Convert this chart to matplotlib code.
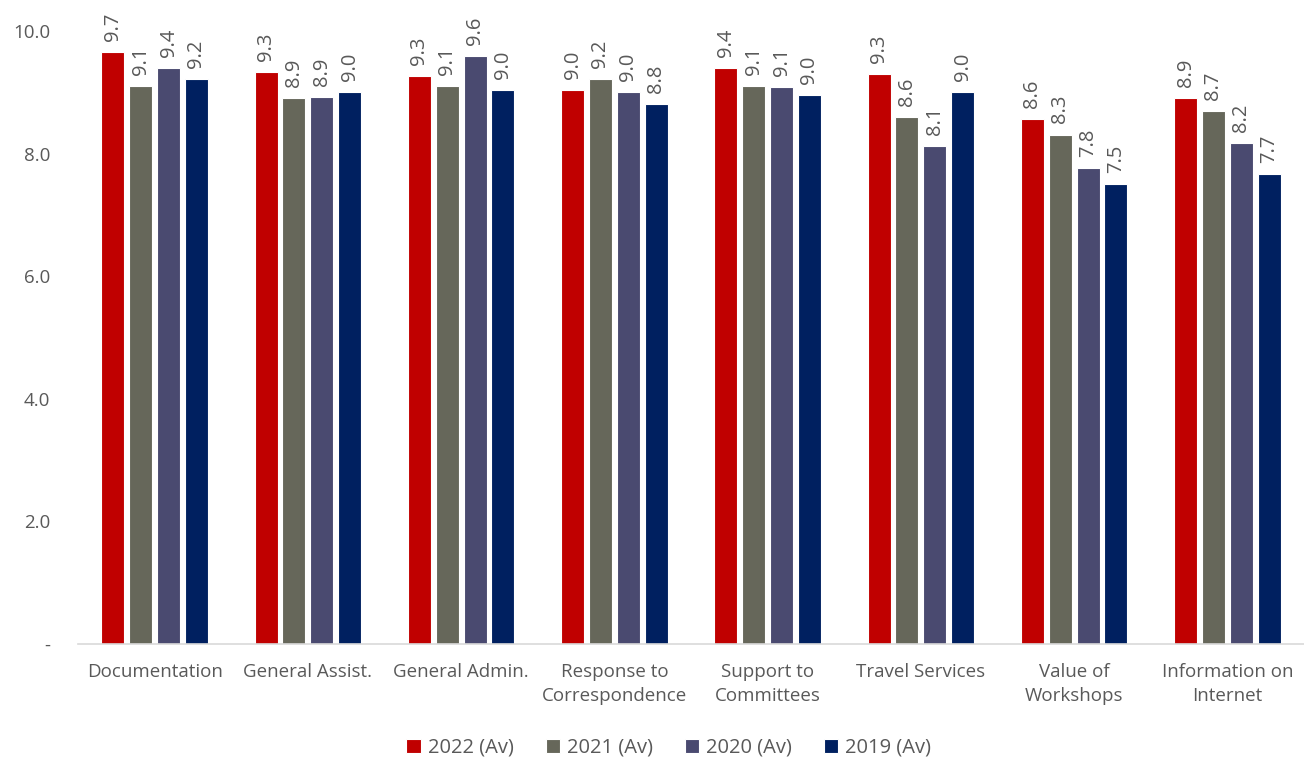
import numpy as np
import matplotlib.pyplot as plt

plt.rcParams["font.family"] = ["Open Sans", "DejaVu Sans"]

categories = [
    "Documentation",
    "General Assist.",
    "General Admin.",
    "Response to\nCorrespondence",
    "Support to\nCommittees",
    "Travel Services",
    "Value of\nWorkshops",
    "Information on\nInternet",
]
series_labels = ["2022 (Av)", "2021 (Av)", "2020 (Av)", "2019 (Av)"]
av_2022 = [9.66, 9.33, 9.27, 9.04, 9.40, 9.30, 8.56, 8.91]
av_2021 = [9.10, 8.91, 9.10, 9.21, 9.10, 8.60, 8.31, 8.70]
av_2020 = [9.40, 8.92, 9.59, 9.00, 9.09, 8.12, 7.77, 8.17]
av_2019 = [9.22, 9.00, 9.04, 8.81, 8.96, 9.00, 7.50, 7.66]

colors = ["#C00000", "#66675A", "#4A4A70", "#002060"]
text_color = "#595959"

fig = plt.figure(figsize=(13.04, 7.6), dpi=100)
ax = fig.add_axes([78 / 1304, 1 - 644 / 760, 1 - 78 / 1304, (644 - 31) / 760])

x = np.arange(len(categories))
step = 0.182
width = 0.15
all_series = [av_2022, av_2021, av_2020, av_2019]
for i, vals in enumerate(all_series):
    pos = x + (i - 1.5) * step
    ax.bar(pos, vals, width=width, color=colors[i], edgecolor="white",
           linewidth=0.8, label=series_labels[i])
    for px, v in zip(pos, vals):
        ax.annotate(f"{v:.1f}", (px, v), xytext=(0, 8), textcoords="offset points",
                    rotation=90, ha="center", va="bottom", fontsize=14.5,
                    color=text_color, annotation_clip=False)

ax.set_xlim(-0.5, len(categories) - 0.5)
ax.set_ylim(0, 10)
ax.set_yticks([0, 2, 4, 6, 8, 10])
ax.set_yticklabels(["-", "2.0", "4.0", "6.0", "8.0", "10.0"])
ax.set_xticks(x)
ax.set_xticklabels(categories, linespacing=1.4)
ax.tick_params(axis="both", length=0, labelsize=13.5, colors=text_color)
ax.tick_params(axis="x", pad=14)
ax.tick_params(axis="y", pad=20)

for side in ["top", "right", "left"]:
    ax.spines[side].set_visible(False)
ax.spines["bottom"].set_color("#D9D9D9")
ax.spines["bottom"].set_linewidth(1.2)

leg = fig.legend(loc="center", bbox_to_anchor=(0.513, 1 - 748 / 760), ncol=4,
                 frameon=False, fontsize=14.5, handlelength=0.7, handleheight=0.7,
                 handletextpad=0.35, columnspacing=1.6)
for t in leg.get_texts():
    t.set_color(text_color)

fig.savefig("out.png", dpi=100)
